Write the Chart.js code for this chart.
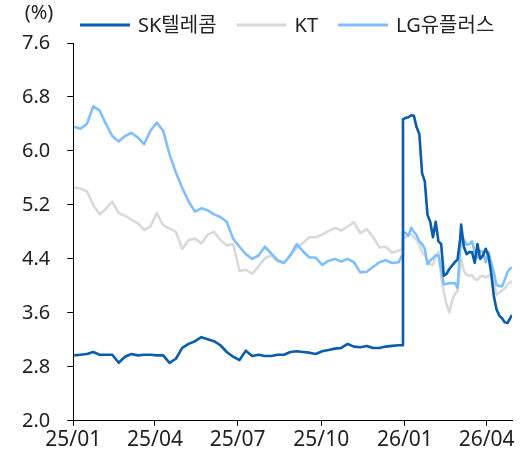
<!DOCTYPE html>
<html>
<head>
<meta charset="utf-8">
<script src="https://cdn.jsdelivr.net/npm/chart.js@4.4.1/dist/chart.umd.min.js"></script>
<style>
  body { margin: 0; background: #fff; }
  canvas { display: block; }
</style>
</head>
<body>
<canvas id="yieldChart" width="521" height="455"></canvas>
<script>
// sample dates (weekly through 2025, denser from late Dec 2025)
const dates = [
  '2025-01-02','2025-01-09','2025-01-16','2025-01-23','2025-01-30',
  '2025-02-06','2025-02-13','2025-02-20','2025-02-27',
  '2025-03-06','2025-03-13','2025-03-20','2025-03-27',
  '2025-04-03','2025-04-10','2025-04-17','2025-04-24',
  '2025-05-01','2025-05-08','2025-05-15','2025-05-22','2025-05-29',
  '2025-06-05','2025-06-12','2025-06-19','2025-06-26',
  '2025-07-03','2025-07-10','2025-07-17','2025-07-24','2025-07-31',
  '2025-08-07','2025-08-14','2025-08-21','2025-08-28',
  '2025-09-04','2025-09-11','2025-09-18','2025-09-25',
  '2025-10-02','2025-10-09','2025-10-16','2025-10-23','2025-10-30',
  '2025-11-06','2025-11-13','2025-11-20','2025-11-27',
  '2025-12-04','2025-12-11','2025-12-18','2025-12-25',
  '2025-12-29','2025-12-30',
  '2026-01-02','2026-01-05','2026-01-08','2026-01-11','2026-01-14',
  '2026-01-17','2026-01-20','2026-01-23','2026-01-26','2026-01-29',
  '2026-02-01','2026-02-04','2026-02-07','2026-02-10','2026-02-13',
  '2026-02-16','2026-02-19','2026-02-22','2026-02-25','2026-02-28',
  '2026-03-03','2026-03-04','2026-03-07','2026-03-10','2026-03-13',
  '2026-03-16','2026-03-19','2026-03-22','2026-03-25','2026-03-28','2026-03-31',
  '2026-04-03','2026-04-06','2026-04-09','2026-04-12','2026-04-15',
  '2026-04-18','2026-04-21','2026-04-24','2026-04-27','2026-04-29'
];

const skValues = [
  2.97, 2.98, 2.99, 3.02, 2.98, 2.98, 2.98, 2.86, 2.95, 2.99,
  2.97, 2.98, 2.98, 2.97, 2.97, 2.86, 2.92, 3.08, 3.14, 3.18,
  3.24, 3.21, 3.18, 3.12, 3.02, 2.95, 2.90, 3.04, 2.96, 2.98,
  2.96, 2.96, 2.98, 2.98, 3.02, 3.03, 3.02, 3.01, 2.99, 3.03,
  3.05, 3.07, 3.08, 3.14, 3.10, 3.09, 3.11, 3.08, 3.08, 3.10,
  3.11, 3.12,
  3.12, 6.47, 6.49, 6.50, 6.53, 6.52, 6.35, 6.25, 5.67, 5.55,
  5.05, 4.95, 4.72, 4.95, 4.66, 4.62, 4.15, 4.18, 4.25, 4.30,
  4.35, 4.39, 4.70, 4.91, 4.58, 4.47, 4.50, 4.50, 4.34, 4.62,
  4.40, 4.45, 4.55, 4.45, 4.20, 3.85, 3.65, 3.56, 3.52, 3.46,
  3.45, 3.52, 3.57
];

const ktValues = [
  5.46, 5.44, 5.40, 5.20, 5.06, 5.14, 5.25, 5.08, 5.04, 4.98,
  4.93, 4.83, 4.88, 5.08, 4.90, 4.85, 4.80, 4.55, 4.68, 4.70,
  4.63, 4.76, 4.80, 4.68, 4.60, 4.62, 4.22, 4.24, 4.18, 4.29,
  4.41, 4.45, 4.36, 4.34, 4.46, 4.56, 4.64, 4.72, 4.72, 4.76,
  4.81, 4.86, 4.82, 4.88, 4.94, 4.78, 4.84, 4.73, 4.57, 4.58,
  4.49, 4.52,
  4.54, 4.70, 4.72, 4.76, 4.76, 4.72, 4.68, 4.61, 4.50, 4.45,
  4.36, 4.32, 4.31, 4.45, 4.50, 4.15, 3.90, 3.72, 3.61, 3.78,
  3.88, 3.92, 4.30, 4.41, 4.22, 4.16, 4.15, 4.16, 4.10, 4.09,
  4.14, 4.15, 4.12, 4.15, 4.18, 4.05, 3.87, 3.90, 3.93, 3.96,
  4.02, 4.05, 4.07
];

const lgValues = [
  6.36, 6.33, 6.40, 6.66, 6.60, 6.40, 6.22, 6.14, 6.22, 6.27,
  6.20, 6.10, 6.30, 6.42, 6.30, 5.95, 5.68, 5.45, 5.25, 5.10,
  5.15, 5.12, 5.06, 5.02, 4.95, 4.70, 4.58, 4.47, 4.40, 4.45,
  4.58, 4.48, 4.38, 4.34, 4.45, 4.62, 4.51, 4.42, 4.42, 4.31,
  4.37, 4.40, 4.36, 4.40, 4.35, 4.20, 4.21, 4.28, 4.35, 4.38,
  4.34, 4.35,
  4.45, 4.80, 4.78, 4.74, 4.86, 4.80, 4.75, 4.66, 4.62, 4.55,
  4.32, 4.38, 4.41, 4.45, 4.45, 4.25, 4.02, 4.03, 4.04, 4.04,
  4.04, 3.97, 4.55, 4.76, 4.68, 4.61, 4.62, 4.66, 4.50, 4.42,
  4.52, 4.50, 4.35, 4.50, 4.35, 4.20, 4.01, 4.00, 3.99, 4.09,
  4.20, 4.26, 4.27
];

const seriesNames = ['SK텔레콤', 'KT', 'LG유플러스'];
const tickDates = ['2025-01-01', '2025-04-01', '2025-07-01', '2025-10-01', '2026-01-01', '2026-04-01'];
const tickLabels = ['25/01', '25/04', '25/07', '25/10', '26/01', '26/04'];
const yTicks = [2.0, 2.8, 3.6, 4.4, 5.2, 6.0, 6.8, 7.6];
const endDate = '2026-04-29';

const FONT = "'Noto Sans', 'Noto Sans CJK KR', sans-serif";
const DAY = 86400000;
const start = Date.UTC(2025, 0, 1);
const dayOf = (s) => {
    const [y, m, d] = s.split('-').map(Number);
    return Math.round((Date.UTC(y, m - 1, d) - start) / DAY);
};
const toPoints = (vals) => dates.map((d, i) => ({ x: dayOf(d), y: vals[i] }));

// legend + unit label, drawn by hand so it can sit over the plot
const headerPlugin = {
    id: 'header',
    afterDraw(chart) {
        const ctx = chart.ctx;
        ctx.save();
        ctx.font = '20px ' + FONT;
        ctx.fillStyle = '#222';
        ctx.textBaseline = 'middle';
        ctx.textAlign = 'center';
        ctx.fillText('(%)', 39, 13);

        ctx.textAlign = 'left';
        let x = 80;
        const y = 25;
        chart.data.datasets.forEach(ds => {
            ctx.fillStyle = ds.borderColor;
            ctx.fillRect(x, y - 1.5, 50, 3);
            x += 58;
            ctx.fillStyle = '#222';
            ctx.fillText(ds.label, x, y + 1);
            x += ctx.measureText(ds.label).width + 20;
        });
        ctx.restore();
    }
};

new Chart(document.getElementById('yieldChart'), {
    type: 'line',
    data: {
        datasets: [
            {
                label: seriesNames[0],
                data: toPoints(skValues),
                borderColor: '#0B5CAB',
                borderWidth: 2.6,
                order: 0,
            },
            {
                label: seriesNames[1],
                data: toPoints(ktValues),
                borderColor: '#D9D9D9',
                borderWidth: 2.6,
                order: 2,
            },
            {
                label: seriesNames[2],
                data: toPoints(lgValues),
                borderColor: '#80BFFF',
                borderWidth: 2.6,
                order: 1,
            },
        ],
    },
    options: {
        responsive: false,
        animation: false,
        devicePixelRatio: 1,
        elements: {
            point: { radius: 0 },
            line: { tension: 0, fill: false, borderJoinStyle: 'round' },
        },
        layout: { padding: { left: 5, right: 9, top: 43, bottom: 0 } },
        plugins: {
            legend: { display: false },
            tooltip: { enabled: false },
        },
        scales: {
            x: {
                type: 'linear',
                min: 0,
                max: dayOf(endDate),
                afterBuildTicks: (scale) => {
                    scale.ticks = tickDates.map(d => ({ value: dayOf(d) }));
                },
                ticks: {
                    autoSkip: false,
                    maxRotation: 0,
                    padding: 2,
                    color: '#222',
                    font: { family: FONT, size: 21 },
                    callback: (value, index) => tickLabels[index],
                },
                grid: { drawOnChartArea: false, tickLength: 5, color: '#000' },
                border: { color: '#000', width: 1 },
            },
            y: {
                min: yTicks[0],
                max: yTicks[yTicks.length - 1],
                afterBuildTicks: (scale) => {
                    scale.ticks = yTicks.map(v => ({ value: v }));
                },
                ticks: {
                    padding: 17,
                    color: '#222',
                    font: { family: FONT, size: 20 },
                    callback: (value) => Number(value).toFixed(1),
                },
                grid: { drawOnChartArea: false, tickLength: 6, color: '#000' },
                border: { color: '#000', width: 1 },
            },
        },
    },
    plugins: [headerPlugin],
});
</script>
</body>
</html>
